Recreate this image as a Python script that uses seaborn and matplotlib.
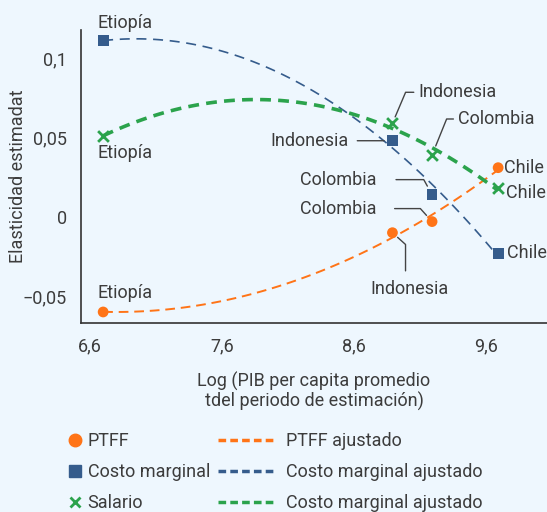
import matplotlib
matplotlib.use("Agg")
import matplotlib.pyplot as plt
import seaborn as sns
from matplotlib.lines import Line2D

# data
countries = ["Etiopía", "Indonesia", "Colombia", "Chile"]
log_gdp = [6.70, 8.89, 9.19, 9.69]
ptff = [-0.060, -0.010, -0.003, 0.031]
costo_marginal = [0.111, 0.048, 0.014, -0.023]
salario = [0.051, 0.059, 0.039, 0.018]

x_ticks = [6.6, 7.6, 8.6, 9.6]
x_ticklabels = ["6,6", "7,6", "8,6", "9,6"]
y_ticks = [-0.05, 0, 0.05, 0.1]
y_ticklabels = ["\u22120,05", "0", "0,05", "0,1"]

bg = "#eef7fe"
txt = "#3c3c3c"
orange = "#ff7417"
blue = "#355c8c"
green = "#2ba34c"
fs = 13

sns.set_style("white")
plt.rcParams["font.family"] = ["Roboto", "DejaVu Sans"]
plt.rcParams["font.size"] = fs

fig = plt.figure(figsize=(5.47, 5.12), dpi=100, facecolor=bg)
ax = fig.add_axes([0.148, 0.369, 0.852, 0.572], facecolor=bg)

# fitted curves (quadratic)
sns.regplot(x=log_gdp, y=costo_marginal, order=2, ci=None, scatter=False, ax=ax,
            line_kws=dict(color=blue, lw=1.2, ls=(0, (6, 4))))
sns.regplot(x=log_gdp, y=ptff, order=2, ci=None, scatter=False, ax=ax,
            line_kws=dict(color=orange, lw=1.4, ls=(0, (5, 3))))
sns.regplot(x=log_gdp, y=salario, order=2, ci=None, scatter=False, ax=ax,
            line_kws=dict(color=green, lw=2.6, ls=(0, (3, 2))))

# points
sns.scatterplot(x=log_gdp, y=ptff, ax=ax, color=orange, marker="o", s=60,
                edgecolor="none", zorder=5)
sns.scatterplot(x=log_gdp, y=costo_marginal, ax=ax, color=blue, marker="s", s=60,
                edgecolor="none", zorder=5)
sns.scatterplot(x=log_gdp, y=salario, ax=ax, color=green, marker="x", s=60,
                linewidth=2, zorder=5)

ax.set_xlim(6.532, 10.06)
ax.set_ylim(-0.067, 0.1177)
ax.set_xticks(x_ticks)
ax.set_xticklabels(x_ticklabels)
ax.set_yticks(y_ticks)
ax.set_yticklabels(y_ticklabels)
ax.spines[["top", "right"]].set_visible(False)
for s in ["left", "bottom"]:
    ax.spines[s].set_color("#333333")
    ax.spines[s].set_linewidth(1.2)
ax.tick_params(axis="both", direction="out", length=6, width=1, color="#333333",
               labelcolor=txt, labelsize=fs, pad=4)
ax.set_xlabel("Log (PIB per capita promedio\ntdel periodo de estimación)",
              color=txt, fontsize=fs, labelpad=12, linespacing=1.1)
ax.set_ylabel("Elasticidad estimadat", color=txt, fontsize=fs)
ax.yaxis.set_label_coords(-0.115, 0.5)

lc = "#444444"


def lab(text, xy, off, ha="left", va="center", line=None, relpos=(0, 0.5),
        shrinkA=2, shrinkB=6):
    kw = dict(textcoords="offset pixels", ha=ha, va=va, color=txt, fontsize=fs,
              annotation_clip=False)
    if line is not None:
        kw["arrowprops"] = dict(arrowstyle="-", color=lc, lw=1,
                                connectionstyle=line, relpos=relpos,
                                shrinkA=shrinkA, shrinkB=shrinkB)
    ax.annotate(text, xy=xy, xytext=off, **kw)


# Etiopía labels
lab(countries[0], (log_gdp[0], costo_marginal[0]), (-6, 18))
lab(countries[0], (log_gdp[0], salario[0]), (-6, -17))
lab(countries[0], (log_gdp[0], ptff[0]), (-6, 19))

# Chile labels
lab(countries[3], (log_gdp[3], ptff[3]), (6, 0))
lab(countries[3], (log_gdp[3], salario[3]), (8, -5))
lab(countries[3], (log_gdp[3], costo_marginal[3]), (9, 0))

# Indonesia labels
lab(countries[1], (log_gdp[1], salario[1]), (26, 31),
    line="angle,angleA=0,angleB=67,rad=0", shrinkA=1, shrinkB=5)
lab(countries[1], (log_gdp[1], costo_marginal[1]), (-44, 0), ha="right",
    line="arc3", relpos=(1, 0.5), shrinkA=4, shrinkB=6)
lab(countries[1], (log_gdp[1], ptff[1]), (17, -56), ha="center",
    line="angle,angleA=90,angleB=-42,rad=0", relpos=(0.45, 1), shrinkA=4,
    shrinkB=5)

# Colombia labels
lab(countries[2], (log_gdp[2], salario[2]), (26, 36),
    line="angle,angleA=0,angleB=68,rad=0", shrinkA=1, shrinkB=7)
lab(countries[2], (log_gdp[2], costo_marginal[2]), (-56, 15), ha="right",
    line="angle,angleA=0,angleB=119,rad=0", relpos=(1, 0.5), shrinkA=12,
    shrinkB=7)
lab(countries[2], (log_gdp[2], ptff[2]), (-56, 13), ha="right",
    line="angle,angleA=0,angleB=132,rad=0", relpos=(1, 0.5), shrinkA=11,
    shrinkB=6)

# legends
h1 = [Line2D([], [], ls="none", marker="o", color=orange, ms=9),
      Line2D([], [], ls="none", marker="s", color=blue, ms=9),
      Line2D([], [], ls="none", marker="x", color=green, ms=7, mew=2)]
l1 = ["PTFF", "Costo marginal", "Salario"]
h2 = [Line2D([], [], color=orange, lw=2.5, ls=(0, (2.2, 1.2))),
      Line2D([], [], color=blue, lw=2.5, ls=(0, (2.2, 1.2))),
      Line2D([], [], color=green, lw=2.5, ls=(0, (2.2, 1.2)))]
l2 = ["PTFF ajustado", "Costo marginal ajustado", "Costo marginal ajustado"]
leg_kw = dict(frameon=False, fontsize=fs, labelcolor=txt, labelspacing=0.72,
              borderaxespad=0, borderpad=0)
fig.legend(h1, l1, loc="upper left", bbox_to_anchor=(0.124, 0.156),
           handlelength=0.8, handletextpad=0.3, **leg_kw)
fig.legend(h2, l2, loc="upper left", bbox_to_anchor=(0.3985, 0.156),
           handlelength=3.15, handletextpad=0.6, **leg_kw)

fig.savefig("out.png", dpi=100, facecolor=bg)
